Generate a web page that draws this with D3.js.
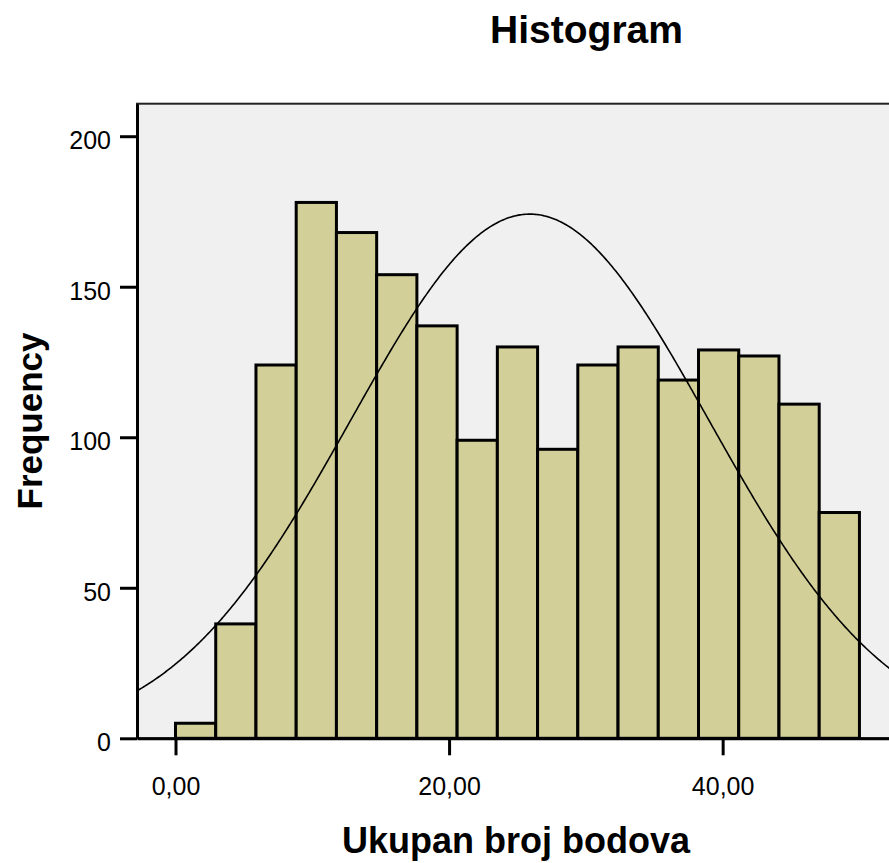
<!DOCTYPE html>
<html>
<head>
<meta charset="utf-8">
<script src="https://cdn.jsdelivr.net/npm/d3@7"></script>
<style>
  body { margin: 0; background: #fff; }
  text { font-family: "Liberation Sans", Arial, sans-serif; fill: #000; }
</style>
</head>
<body>
<script>
// bin counts, Ukupan broj bodova, 17 equal bins from 0 to 50
var counts = [5, 38, 124, 178, 168, 154, 137, 99, 130, 96, 124, 130, 119, 129, 127, 111, 75];
var binMin = 0, binMax = 50;

// normal curve parameters
var mean = 25.9, sd = 13.1;

var xTicks = [0, 20, 40];
var yTicks = [0, 50, 100, 150, 200];

var width = 889, height = 863;
var plot = { left: 137, right: 895, top: 103.7, bottom: 738.3 };

var binWidth = (binMax - binMin) / counts.length;
var bins = counts.map(function(c, i) {
	return { x0: binMin + i * binWidth, x1: binMin + (i + 1) * binWidth, n: c };
});
var total = d3.sum(counts);

var x = d3.scaleLinear().domain([-2.815, 52.6]).range([plot.left, plot.right]);
var y = d3.scaleLinear().domain([0, 210.8]).range([plot.bottom, plot.top]);

var svg = d3.select("body").append("svg")
	.attr("width", width).attr("height", height);

svg.append("defs").append("clipPath").attr("id", "clip")
	.append("rect").attr("x", plot.left).attr("y", plot.top)
	.attr("width", plot.right - plot.left).attr("height", plot.bottom - plot.top);

// plot background + top border
svg.append("rect").attr("x", plot.left).attr("y", plot.top)
	.attr("width", plot.right - plot.left).attr("height", plot.bottom - plot.top)
	.style("fill", "#f0f0f0").style("stroke", "#222").style("stroke-width", 2);

svg.append("g").selectAll("rect").data(bins).enter().append("rect")
	.attr("x", function(d) { return x(d.x0); })
	.attr("width", function(d) { return x(d.x1) - x(d.x0); })
	.attr("y", function(d) { return y(d.n); })
	.attr("height", function(d) { return y(0) - y(d.n); })
	.style("fill", "#d3cf98").style("stroke", "#000").style("stroke-width", 3);

// normal curve
var dens = function(v) {
	return total * binWidth / (sd * Math.sqrt(2 * Math.PI)) * Math.exp(-0.5 * Math.pow((v - mean) / sd, 2));
};
var xs = d3.range(x.domain()[0], x.domain()[1], 0.1);
var line = d3.line().x(function(v) { return x(v); }).y(function(v) { return y(dens(v)); });
svg.append("path").datum(xs).attr("d", line).attr("clip-path", "url(#clip)")
	.style("fill", "none").style("stroke", "#000").style("stroke-width", 1.6);

// axes
var yAxis = d3.axisLeft(y).tickValues(yTicks).tickSize(17).tickSizeOuter(0).tickPadding(9);
var gy = svg.append("g").attr("transform", "translate(" + plot.left + ",0)").call(yAxis);

var xAxis = d3.axisBottom(x).tickValues(xTicks).tickSize(17).tickSizeOuter(0).tickPadding(22)
	.tickFormat(function(d) { return d3.format(".2f")(d).replace(".", ","); });
var gx = svg.append("g").attr("transform", "translate(0," + plot.bottom + ")").call(xAxis);

[gx, gy].forEach(function(g) {
	g.select(".domain").style("stroke", "#000").style("stroke-width", 3);
	g.selectAll(".tick line").style("stroke", "#000").style("stroke-width", 3);
	g.selectAll(".tick text").style("font-size", "25px").style("fill", "#000");
});
gy.selectAll(".tick text").attr("dy", "0.5em");

// titles
svg.append("text").attr("x", 586.5).attr("y", 42.7).style("text-anchor", "middle")
	.style("font-size", "39px").style("font-weight", "bold").text("Histogram");

svg.append("text").attr("x", (plot.left + plot.right) / 2).attr("y", 853.3).style("text-anchor", "middle")
	.style("font-size", "36px").style("font-weight", "bold").text("Ukupan broj bodova");

svg.append("text").attr("transform", "translate(42," + (plot.top + plot.bottom) / 2 + ") rotate(-90)")
	.style("text-anchor", "middle").style("font-size", "35px").style("font-weight", "bold").text("Frequency");
</script>
</body>
</html>
